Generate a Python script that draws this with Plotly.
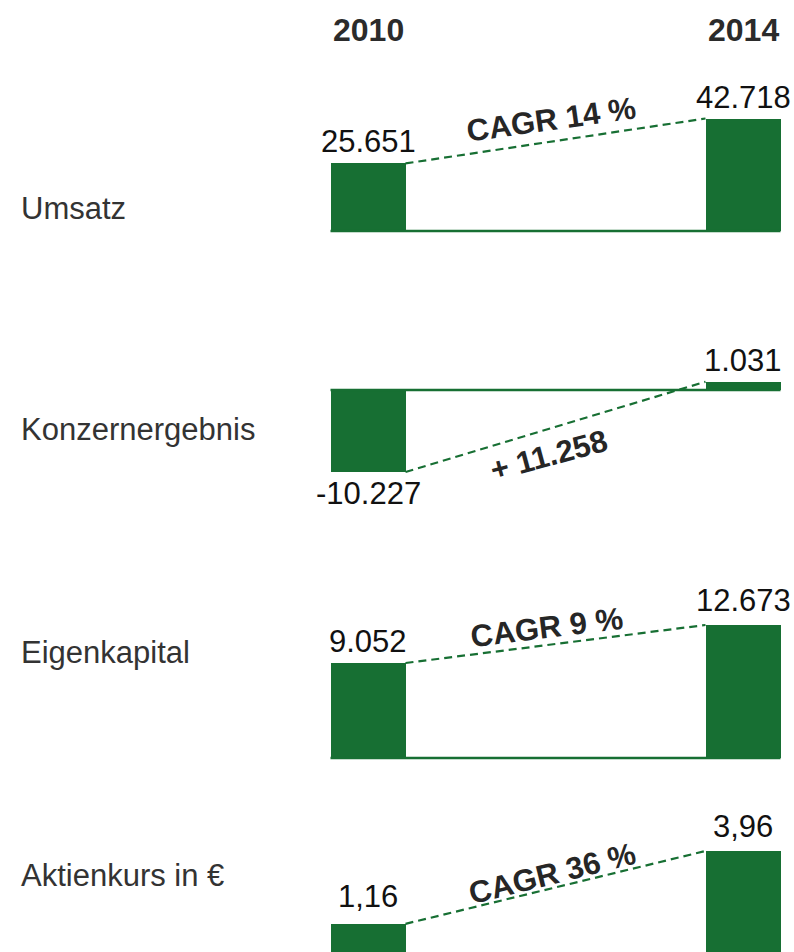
import plotly.graph_objects as go

# ---------------- data ----------------
categories = ["Umsatz", "Konzernergebnis", "Eigenkapital", "Aktienkurs in €"]
years = ["2010", "2014"]
values_2010 = [25651, -10227, 9052, 1.16]
values_2014 = [42718, 1031, 12673, 3.96]
labels_2010 = ["25.651", "-10.227", "9.052", "1,16"]
labels_2014 = ["42.718", "1.031", "12.673", "3,96"]
change_labels = ["CAGR 14 %", "+ 11.258", "CAGR 9 %", "CAGR 36 %"]

# ---------------- layout constants ----------------
W, H = 794, 952
GREEN = "#176F33"
TEXT = "#262626"
FONT = "Liberation Sans, Arial, sans-serif"

# pixel geometry of each panel (baseline y in px, height in px of largest bar)
baseline_px = [231, 390, 758, 954]
maxbar_px = [112.5, 82, 133, 103]
# x: category 0 at 368px, category 1 at 743px
x0_px, x1_px = 368, 743
unit = x1_px - x0_px
bar_w = 75 / unit
xrange_ = [-x0_px / unit, (W - x0_px) / unit]

change_angle = [-8, -15, -7, -14]
change_shift = [(-4, 21), (-7, -29), (-9, 17), (-3, 14)]
value_label_shift = [(2, 2), (-2, 2), (2, 5), (8, 5)]
row_label_px = [208, 430, 652, 875]

fig = go.Figure()
annotations = []
shapes = []
xs = [0, 1]

for i, cat in enumerate(categories):
    yname = "y" if i == 0 else f"y{i+1}"
    axkey = "yaxis" if i == 0 else f"yaxis{i+1}"
    vals = [values_2010[i], values_2014[i]]
    s = maxbar_px[i] / max(abs(v) for v in vals)
    b = baseline_px[i]
    rng = [(b - H) / s, b / s]
    ax = dict(domain=[0, 1], range=rng, visible=False, fixedrange=True)
    if i > 0:
        ax["overlaying"] = "y"
    fig.update_layout({axkey: ax})

    fig.add_trace(go.Bar(
        x=xs, y=vals, yaxis=yname, width=bar_w, offset=-bar_w / 2,
        marker=dict(color=GREEN, line=dict(width=0)), showlegend=False,
        hoverinfo="skip",
    ))
    # dashed connector from end of 2010 bar to end of 2014 bar
    fig.add_trace(go.Scatter(
        x=[xs[0] + bar_w / 2, xs[1] - bar_w / 2], y=vals, yaxis=yname,
        mode="lines", line=dict(color=GREEN, width=2.2, dash="8px,5px"),
        showlegend=False, hoverinfo="skip",
    ))
    # baseline
    shapes.append(dict(type="line", xref="x", yref=yname,
                       x0=xs[0] - bar_w / 2, x1=xs[1] + bar_w / 2, y0=0, y1=0,
                       line=dict(color=GREEN, width=2.5)))
    # value labels
    for j, (xv, v, lab) in enumerate(zip(xs, vals, [labels_2010[i], labels_2014[i]])):
        pos = v >= 0
        annotations.append(dict(
            x=xv, y=v, xref="x", yref=yname, text=lab, showarrow=False,
            xanchor="center", yanchor="bottom" if pos else "top",
            yshift=value_label_shift[i][j],
            font=dict(family=FONT, size=31, color="#111111"),
        ))
    # change label
    annotations.append(dict(
        x=0.5, y=(vals[0] + vals[1]) / 2, xref="x", yref=yname,
        text=f"<b>{change_labels[i]}</b>", showarrow=False,
        textangle=change_angle[i], xanchor="center", yanchor="middle",
        xshift=change_shift[i][0], yshift=change_shift[i][1],
        font=dict(family=FONT, size=31, color=TEXT),
    ))
    # row label
    annotations.append(dict(
        x=0, y=1 - row_label_px[i] / H, xref="paper", yref="paper",
        text=cat, showarrow=False, xanchor="left", yanchor="middle",
        xshift=19, font=dict(family=FONT, size=31, color="#333333"),
    ))

# year headers
for xv, yr in zip(xs, years):
    annotations.append(dict(
        x=xv, y=1 - 29.5 / H, xref="x", yref="paper", text=f"<b>{yr}</b>",
        showarrow=False, xanchor="center", yanchor="middle",
        font=dict(family=FONT, size=32, color="#2b2b2b"),
    ))

fig.update_layout(
    width=W, height=H, margin=dict(l=0, r=0, t=0, b=0),
    paper_bgcolor="white", plot_bgcolor="white",
    xaxis=dict(range=xrange_, visible=False, fixedrange=True),
    annotations=annotations, shapes=shapes, bargap=0,
)

fig.write_html("out.html", config={"displayModeBar": False},
               post_script="document.body.style.margin='0';")
